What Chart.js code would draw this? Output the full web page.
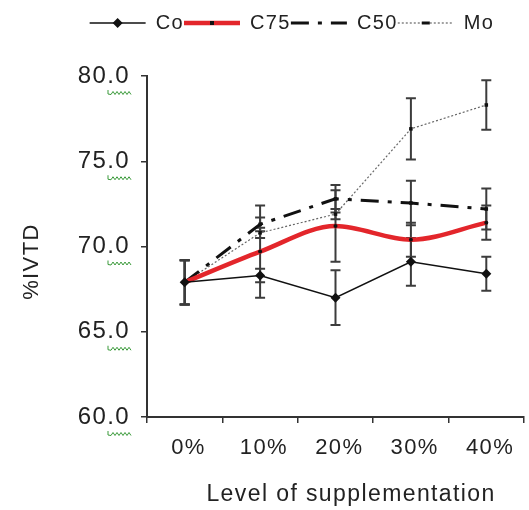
<!DOCTYPE html>
<html><head><meta charset="utf-8">
<script src="https://cdn.jsdelivr.net/npm/chart.js@4"></script>
<style>html,body{margin:0;padding:0;background:#fff;overflow:hidden}</style>
</head><body>
<canvas id="c" width="529" height="510" style="width:529px;height:510px"></canvas>
<script>
const categories = [' 0%', ' 10%', ' 20%', ' 30%', ' 40%'];
const seriesNames = ['Co', 'C75', 'C50', 'Mo'];
const coValues  = [67.9, 68.3, 67.0, 69.1, 68.4];
const coErrors  = [1.3, 0.4, 1.6, 1.4, 1.0];
const c75Values = [67.9, 69.7, 71.2, 70.4, 71.4];
const c75Errors = [1.3, 2.7, 2.1, 1.0, 1.0];
const c50Values = [67.9, 71.3, 72.8, 72.55, 72.2];
const c50Errors = [1.3, 0.4, 0.8, 1.3, 1.2];
const moValues  = [67.9, 70.8, 71.9, 76.9, 78.3];
const moErrors  = [1.3, 0.3, 0.3, 1.8, 1.45];
const yMin = 60, yMax = 80, yStep = 5;
const xTitle = '    Level of supplementation';
const yTitle = '%IVTD    ';

const errorSets = [coErrors, c75Errors, c50Errors, moErrors];
const FONT = '"Liberation Sans", Arial, sans-serif';
const TXT = '#222';
const SPACING = '1.4px';

const spacingPlugin = {
  id: 'spacing',
  beforeUpdate(c) { c.ctx.letterSpacing = SPACING; },
  beforeLayout(c) { c.ctx.letterSpacing = SPACING; },
  beforeDraw(c) { c.ctx.letterSpacing = SPACING; }
};

const errorBarPlugin = {
  id: 'errorBars',
  beforeDatasetsDraw(chart) {
    const { ctx, scales: { x, y } } = chart;
    ctx.save();
    ctx.strokeStyle = '#3c3c3c';
    ctx.lineWidth = 2;
    chart.data.datasets.forEach((ds, i) => {
      const errs = errorSets[i];
      ds.data.forEach((v, j) => {
        const px = x.getPixelForValue(j);
        const yt = y.getPixelForValue(v + errs[j]);
        const yb = y.getPixelForValue(v - errs[j]);
        ctx.beginPath();
        ctx.moveTo(px, yt); ctx.lineTo(px, yb);
        ctx.moveTo(px - 5, yt); ctx.lineTo(px + 5, yt);
        ctx.moveTo(px - 5, yb); ctx.lineTo(px + 5, yb);
        ctx.stroke();
      });
    });
    ctx.restore();
  }
};

const decorPlugin = {
  id: 'decor',
  afterDraw(chart) {
    const { ctx } = chart;
    const lg = chart.legend;
    if (lg && lg.legendHitBoxes) {
      lg.legendHitBoxes.forEach((b, i) => {
        const cx = b.left + 28, cy = b.top + b.height / 2;
        ctx.save();
        ctx.fillStyle = '#111';
        ctx.beginPath();
        if (i === 0) { ctx.moveTo(cx, cy - 5); ctx.lineTo(cx + 5, cy); ctx.lineTo(cx, cy + 5); ctx.lineTo(cx - 5, cy); ctx.closePath(); ctx.fill(); }
        else if (i === 1) { ctx.rect(cx - 2, cy - 2, 4, 4); ctx.fill(); }
        else if (i === 3) { ctx.rect(cx - 4, cy - 1.5, 8, 3); ctx.fill(); }
        ctx.restore();
      });
    }
    const ys = chart.scales.y;
    ctx.save();
    ctx.strokeStyle = '#3a9a3a';
    ctx.lineWidth = 1;
    ys.ticks.forEach(t => {
      const py = ys.getPixelForValue(t.value) + 17;
      const xr = ys.right - 6 - 11;
      const xl = xr - 22;
      ctx.beginPath();
      ctx.moveTo(xl, py - 3); ctx.lineTo(xl, py + 1);
      for (let k = 0; k <= 10; k++) {
        const xx = xl + 3 + k * 2;
        ctx.lineTo(xx, py + (k % 2 ? -1.5 : 1.5));
      }
      ctx.stroke();
    });
    ctx.restore();
  }
};

new Chart(document.getElementById('c'), {
  type: 'line',
  data: {
    labels: categories,
    datasets: [
      { label: seriesNames[0], data: coValues, borderColor: '#111', backgroundColor: '#111', borderWidth: 1.5,
        pointStyle: 'rectRot', pointRadius: 5, pointBackgroundColor: '#111', pointBorderWidth: 0, tension: 0 },
      { label: seriesNames[1], data: c75Values, borderColor: '#e3262b', backgroundColor: '#e3262b', borderWidth: 4.5,
        pointStyle: 'circle', pointRadius: 2, pointBackgroundColor: '#111', pointBorderWidth: 0,
        cubicInterpolationMode: 'monotone', tension: 0.4 },
      { label: seriesNames[2], data: c50Values, borderColor: '#111', backgroundColor: '#111', borderWidth: 3,
        borderDash: [18, 9, 4, 9], pointStyle: 'rect', pointRadius: 2.5, pointBackgroundColor: '#111', pointBorderWidth: 0, tension: 0 },
      { label: seriesNames[3], data: moValues, borderColor: '#666', backgroundColor: '#666', borderWidth: 1.2,
        borderDash: [2, 2], pointStyle: 'rect', pointRadius: 2.5, pointBackgroundColor: '#111', pointBorderWidth: 0, tension: 0 }
    ]
  },
  options: {
    responsive: false,
    animation: false,
    layout: { padding: { top: 13, left: 50, right: -5, bottom: 0 } },
    plugins: {
      legend: {
        position: 'top',
        labels: {
          usePointStyle: true, pointStyle: 'line', pointStyleWidth: 56, boxHeight: 20, padding: 0,
          font: { family: FONT, size: 20 }, color: TXT,
          generateLabels(chart) {
            return chart.data.datasets.map((ds, i) => ({
              text: ds.label, datasetIndex: i, pointStyle: 'line',
              strokeStyle: ds.borderColor, fillStyle: ds.borderColor,
              lineWidth: ds.borderWidth, lineDash: ds.borderDash || [],
              fontColor: TXT, hidden: false
            }));
          }
        }
      },
      subtitle: { display: true, text: '', weight: 500, font: { size: 10 }, padding: { top: 10.5, bottom: 10.5 } },
      tooltip: { enabled: false }
    },
    scales: {
      x: {
        type: 'category', offset: true,
        grid: { offset: true, drawOnChartArea: false, drawTicks: true, tickLength: 6, color: '#333', lineWidth: 1.5 },
        border: { color: '#333', width: 2 },
        ticks: { font: { family: FONT, size: 22 }, color: TXT, padding: 12, maxRotation: 0, autoSkip: false },
        title: { display: true, text: xTitle, font: { family: FONT, size: 23 }, color: TXT, padding: { top: 0, bottom: 2 } },
        afterFit(s) { s.height = 93; }
      },
      y: {
        min: yMin, max: yMax,
        grid: { drawOnChartArea: false, drawTicks: true, tickLength: 6, color: '#333', lineWidth: 1.5 },
        border: { color: '#333', width: 2 },
        ticks: { stepSize: yStep, callback: v => Number(v).toFixed(1), font: { family: FONT, size: 24 }, color: TXT, padding: 11 },
        title: { display: true, text: yTitle, font: { family: FONT, size: 22 }, color: TXT, padding: { top: -31, bottom: 0 } },
        afterFit(s) { s.width = 97; }
      }
    }
  },
  plugins: [spacingPlugin, errorBarPlugin, decorPlugin]
});
</script>
</body></html>
